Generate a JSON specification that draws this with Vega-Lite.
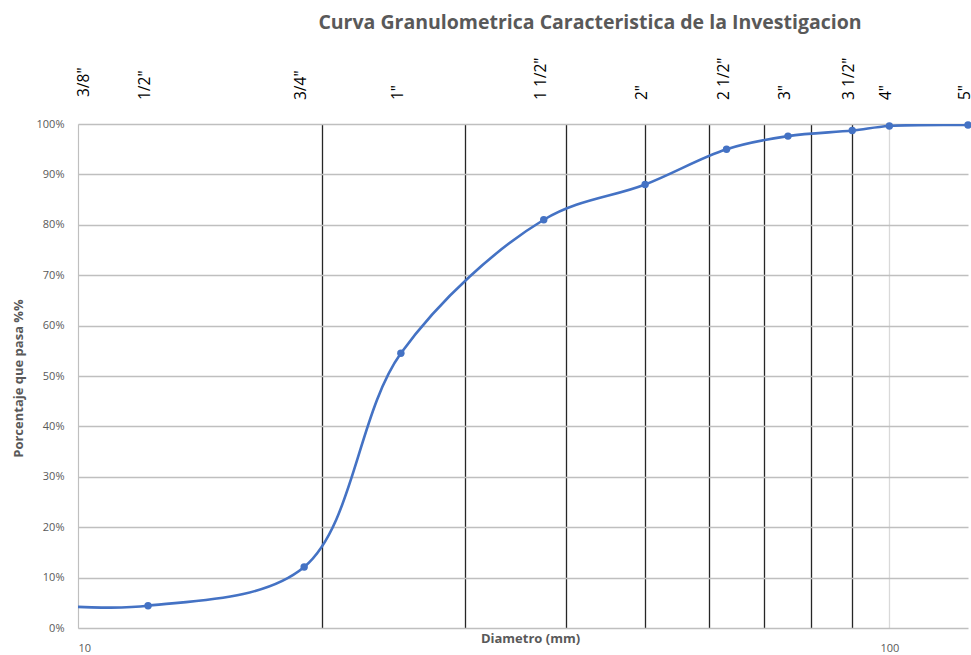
{
  "$schema": "https://vega.github.io/schema/vega-lite/v6.json",
  "width": 890,
  "height": 504,
  "autosize": {"type": "none"},
  "padding": {"left": 78, "top": 124, "right": 3, "bottom": 27},
  "background": "white",
  "title": {
    "text": "Curva Granulometrica Caracteristica de la Investigacion",
    "font": "Open Sans",
    "fontSize": 19.5,
    "fontWeight": "bold",
    "color": "#595959",
    "anchor": "middle",
    "frame": "group",
    "dx": 67,
    "dy": -20
  },
  "config": {
    "view": {"stroke": null},
    "font": "Open Sans",
    "axis": {"labelFont": "Open Sans", "titleFont": "Open Sans"}
  },
  "data": {
    "values": [
      {"d": 9.5, "pasa": 0.044, "tamiz": "3/8\""},
      {"d": 12.2, "pasa": 0.044, "tamiz": "1/2\""},
      {"d": 19, "pasa": 0.121, "tamiz": "3/4\""},
      {"d": 25, "pasa": 0.545, "tamiz": "1\""},
      {"d": 37.5, "pasa": 0.81, "tamiz": "1 1/2\""},
      {"d": 50, "pasa": 0.88, "tamiz": "2\""},
      {"d": 63, "pasa": 0.95, "tamiz": "2 1/2\""},
      {"d": 75, "pasa": 0.976, "tamiz": "3\""},
      {"d": 90, "pasa": 0.987, "tamiz": "3 1/2\""},
      {"d": 100, "pasa": 0.996, "tamiz": "4\""},
      {"d": 125, "pasa": 0.998, "tamiz": "5\""}
    ]
  },
  "encoding": {
    "x": {
      "field": "d",
      "type": "quantitative",
      "scale": {"type": "log", "domain": [10, 125], "nice": false},
      "axis": {
        "values": [10, 20, 30, 40, 50, 60, 70, 80, 90, 100],
        "format": "d",
        "labelExpr": "datum.value == 10 || datum.value == 100 ? datum.label : ''",
        "labelFontSize": 11,
        "labelColor": "#595959",
        "labelPadding": 14,
        "ticks": false,
        "domain": false,
        "grid": true,
        "gridColor": {"condition": {"test": "datum.value == 10 || datum.value == 100", "value": "#d9d9d9"}, "value": "#262626"},
        "gridWidth": 1.3,
        "gridOpacity": 1,
        "title": "Diametro (mm)",
        "titleFontSize": 13,
        "titleFontWeight": "bold",
        "titleColor": "#595959",
        "titleX": 452,
        "titleY": 10,
        "titleBaseline": "middle"
      }
    },
    "y": {
      "field": "pasa",
      "type": "quantitative",
      "scale": {"domain": [0, 1], "nice": false},
      "axis": {
        "values": [0, 0.1, 0.2, 0.3, 0.4, 0.5, 0.6, 0.7, 0.8, 0.9, 1],
        "format": ".0%",
        "labelFontSize": 11,
        "labelColor": "#595959",
        "labelPadding": 14,
        "ticks": false,
        "domain": true,
        "domainColor": "#bfbfbf",
        "grid": true,
        "gridColor": "#bfbfbf",
        "gridWidth": 1.3,
        "title": "Porcentaje que pasa %%",
        "titleFontSize": 13,
        "titleFontWeight": "bold",
        "titleColor": "#595959",
        "titleX": -60,
        "titleY": 254,
        "titleAngle": -90,
        "titleBaseline": "middle",
        "titleAlign": "center"
      }
    }
  },
  "layer": [
    {
      "mark": {"type": "line", "interpolate": "catmull-rom", "color": "#4472C4", "strokeWidth": 2.6, "clip": true}
    },
    {
      "transform": [{"filter": "datum.d >= 10"}],
      "mark": {"type": "point", "filled": true, "size": 55, "color": "#4472C4", "opacity": 1}
    },
    {
      "transform": [{"filter": "datum.d >= 10"}],
      "mark": {"type": "text", "angle": -90, "align": "left", "baseline": "middle", "dx": 24, "dy": -3, "font": "Open Sans", "fontSize": 15.5, "color": "#000000"},
      "encoding": {"y": {"datum": 1}, "text": {"field": "tamiz"}}
    },
    {
      "transform": [{"filter": "datum.d < 10"}],
      "mark": {"type": "text", "angle": -90, "align": "left", "baseline": "middle", "dx": 27, "dy": 24, "font": "Open Sans", "fontSize": 15.5, "color": "#000000"},
      "encoding": {"y": {"datum": 1}, "text": {"field": "tamiz"}}
    }
  ]
}
